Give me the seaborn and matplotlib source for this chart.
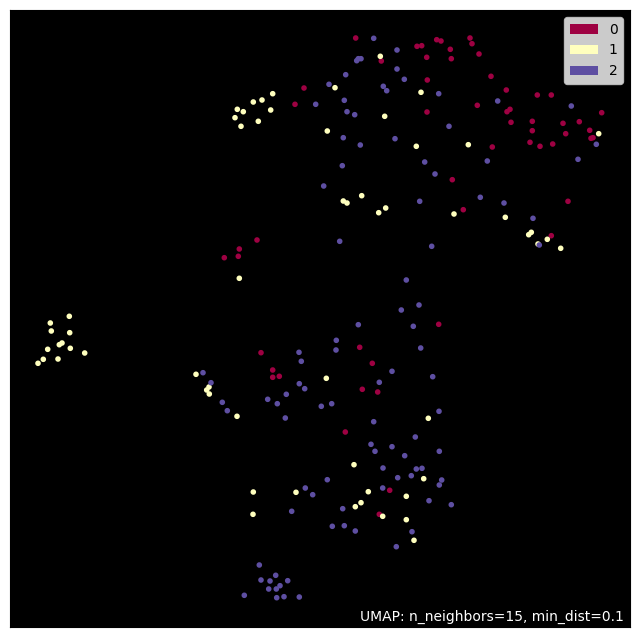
import numpy as np
import pandas as pd
import matplotlib
matplotlib.use("Agg")
import matplotlib.pyplot as plt
from matplotlib.patches import Patch
import seaborn as sns

# embedding coordinates (y grows downward)
x0 = [355.7, 417, 421.7, 426.7, 381.3, 427.3, 304, 295, 427, 436.7, 441, 470, 472, 450.3,
      451.3, 479, 491, 506.3, 477.3, 507, 510, 511, 537.3, 551.3, 601.7, 532.3, 579.3, 563,
      532.3, 565.7, 589.7, 591, 593, 530, 540, 552.7, 492.3, 452.3, 463.3, 568, 551.3, 438.7,
      257, 239.3, 238.3, 224.3, 359.7, 261, 372.3, 272.7, 272.7, 279.3, 362.3, 377.7, 345.3,
      389.7, 379.3]
y0 = [38, 46.3, 45.7, 57.3, 61, 80, 88, 104.3, 112, 39.7, 41, 38, 43.7, 49.3,
      58.7, 54, 76.3, 90, 105.3, 111.7, 109.3, 122.3, 95, 95, 112.7, 121.3, 121.7, 123.3,
      130.7, 133.7, 130.3, 138.3, 137.7, 142.3, 146.3, 144, 147, 179.7, 209.7, 201.3, 235.7, 324.3,
      240, 249, 256.3, 257.7, 347.3, 352.7, 363.3, 370, 377.3, 376.3, 389.3, 392, 432,
      490.3, 514.3]

x1 = [380.3, 335, 421, 272.7, 262, 253.3, 237.3, 243.3, 270.7, 235, 258.3, 241, 384.7, 327.3,
      416.3, 361.7, 343.3, 347, 378.7, 385.7, 468.3, 598.7, 454, 505.3, 528.7, 531.3, 547.3, 538,
      560.7, 428.3, 69.3, 50.3, 51.3, 69.7, 59.3, 62, 47.7, 70.3, 84.7, 43.3, 58, 38,
      196, 209, 206.7, 209.3, 239.3, 326.3, 237, 354, 423.7, 253.3, 296, 368.3, 406.3, 361,
      355.3, 253, 382.7, 406.3, 414]
y1 = [56.3, 87.7, 92.3, 93.7, 100, 102, 109.3, 111.7, 110, 117.7, 121.3, 126.3, 116.3, 131,
      146.3, 195.7, 201, 203, 212.7, 208, 144.7, 133.7, 214, 217.3, 234.7, 232.3, 239.3, 244,
      248.3, 418.3, 316.3, 323, 331, 332.7, 344.7, 343, 349.3, 348.3, 353, 359.3, 359, 363.3,
      374.3, 387, 390, 394, 278.3, 378.3, 416.3, 464.7, 478.7, 492, 492.3, 491.7, 496.3, 502.7,
      506.7, 514.3, 516.3, 519.7, 540.3]

x2 = [373.7, 397, 356.7, 358.3, 361, 397, 345.7, 404.3, 329, 383.3, 386.7, 315.7, 344.3, 347,
      354.7, 343.3, 360.3, 395, 424.7, 342.3, 323.7, 419.7, 438.7, 497.7, 571.3, 596.3, 449, 578,
      487.3, 435, 480.3, 504, 533, 539.3, 431.7, 419, 420.7, 432.7, 439, 203, 211, 339.7,
      406.3, 401.3, 358.3, 413.3, 336.3, 336, 299, 301.3, 392, 379.3, 299.3, 304.7, 286.3, 267.7,
      277.3, 222.3, 227.3, 321.3, 331.7, 285.3, 373.7, 415.3, 371, 375, 392, 404.7, 383, 416.3,
      422, 411.3, 397.7, 327.3, 305.3, 312.7, 382.7, 429, 342.7, 291.7, 332.3, 344.3, 355.3, 412,
      396.3, 259.3, 275.7, 261, 270, 287.7, 280, 268.7, 276.3, 244.3, 276.7, 284, 299.3, 439.3,
      441.7, 439.3, 451.3]
y2 = [38.3, 50, 60.7, 58.7, 58.7, 69, 74.7, 79.3, 84.3, 86.3, 90.7, 104.3, 100.3, 111.7,
      114.7, 137.7, 145, 138.7, 162, 165.7, 186, 201.3, 93.7, 101, 106, 144.3, 126.3, 159.3,
      161, 174, 197.3, 203, 218.3, 245, 246.3, 305, 348, 376.7, 411.3, 372.7, 382.7, 241.3,
      280, 310, 324.7, 326.3, 340.3, 350, 352.3, 361.3, 371.3, 382.3, 383.7, 388.7, 394.3, 399.3,
      403.7, 402.3, 410.7, 406.3, 403.7, 418, 421.7, 437, 444.3, 451.3, 446.7, 455.7, 468, 469,
      468.3, 475.7, 477.7, 479.7, 488, 494.7, 488, 500.7, 508.7, 511.3, 526.3, 525.7, 531, 531.7,
      546.7, 565, 575.3, 580, 581, 580.7, 585.7, 589, 589, 595.3, 597.7, 596.7, 597, 451.3,
      480, 485, 504.7]

labels = ["0", "1", "2"]

df = pd.DataFrame({
    "x": x0 + x1 + x2,
    "y": y0 + y1 + y2,
    "label": ["0"] * len(x0) + ["1"] * len(x1) + ["2"] * len(x2),
})

colors = [matplotlib.colors.to_hex(c) for c in plt.get_cmap("Spectral")(np.linspace(0, 1, 3))]
palette = dict(zip(labels, colors))

fig = plt.figure(figsize=(6.4, 6.36), dpi=100)
ax = fig.add_axes([10 / 640, 9 / 636, 620 / 640, 617 / 636])
ax.set_facecolor("black")

sns.scatterplot(data=df, x="x", y="y", hue="label", palette=palette, s=6.3,
                edgecolor="face", linewidth=1.5, legend=False, ax=ax)

ax.set_xlim(10, 630)
ax.set_ylim(627, 10)
ax.set(xlabel="", ylabel="", xticks=[], yticks=[])

handles = [Patch(facecolor=palette[k], label=k) for k in labels]
ax.legend(handles=handles, loc="upper right")

ax.text(0.99, 0.01, "UMAP: n_neighbors=15, min_dist=0.1", transform=ax.transAxes,
        ha="right", color="white")

fig.savefig("out.png", dpi=100)
